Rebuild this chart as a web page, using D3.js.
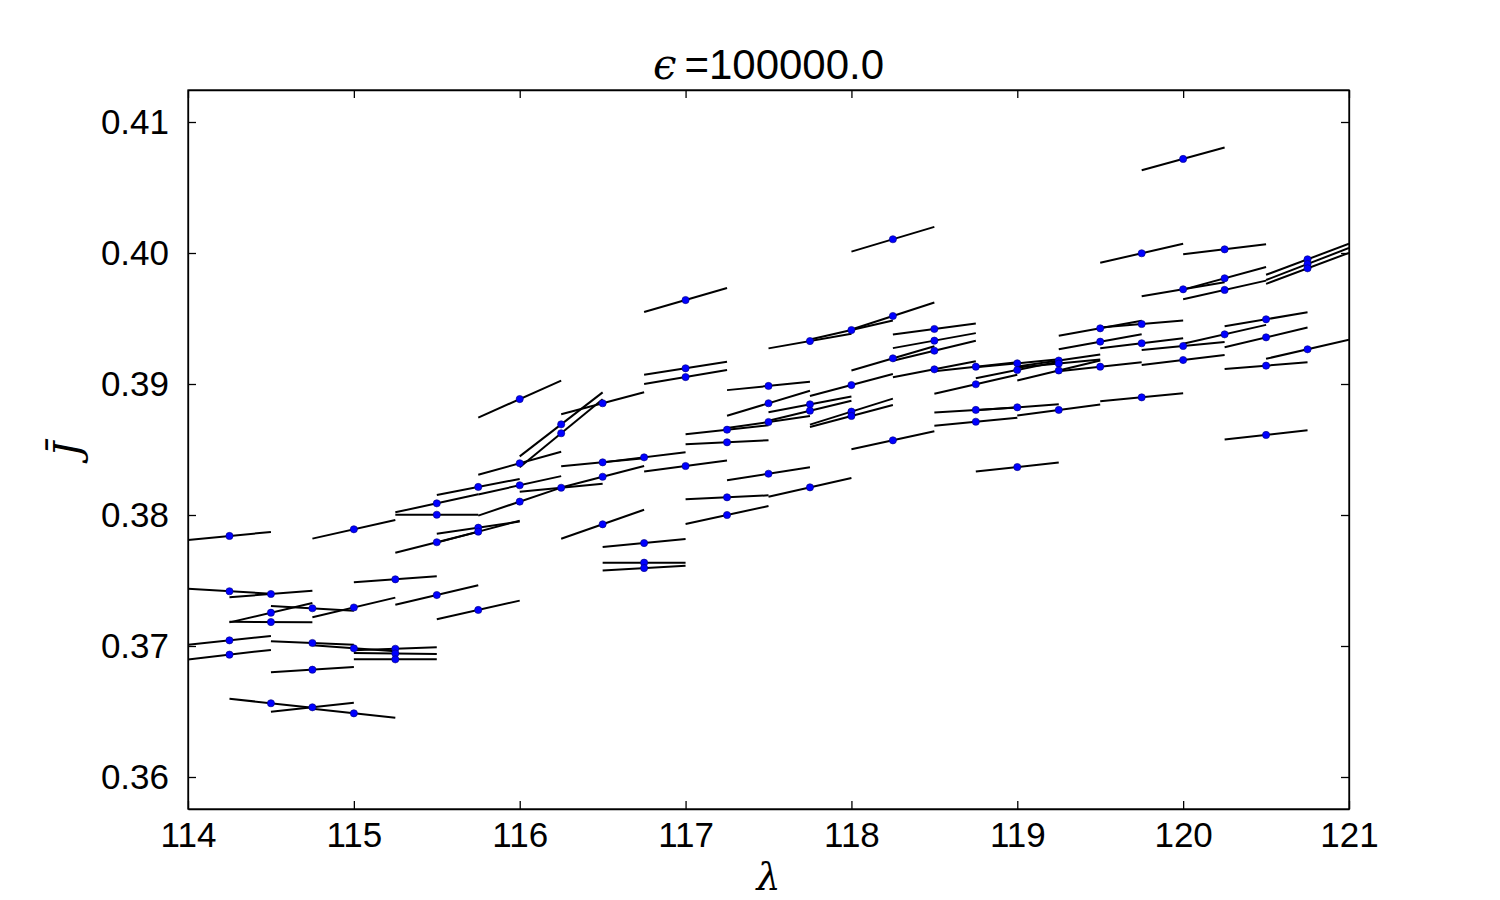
<!DOCTYPE html>
<html>
<head>
    <title>epsilon = 100000.0</title>
    <script src="https://d3js.org/d3.v7.min.js"></script>
</head>
<body style="margin:0; background:#fff;">
    <style>
        text { font-family: 'Liberation Sans', Arial, sans-serif; fill: #000; }
        .axis text { font-size: 35px; font-family: 'Liberation Sans', Arial, sans-serif; }
        .axis path, .axis line { fill: none; stroke: #000; stroke-width: 1.3px; }
        .seg { stroke: #000; stroke-width: 2px; fill: none; }
        .dot { fill: #0000ff; stroke: #00007a; stroke-width: 0.6px; }
    </style>
    <script>
    // lambda columns, one list of J-bar values (and tangent slopes dJ/dlambda) per column
    var lambdas = [114.25, 114.5, 114.75, 115, 115.25, 115.5, 115.75, 116, 116.25, 116.5, 116.75,
                   117, 117.25, 117.5, 117.75, 118, 118.25, 118.5, 118.75, 119, 119.25, 119.5,
                   119.75, 120, 120.25, 120.5, 120.75];

    var jbar = [
        [0.3784, 0.37418, 0.37043, 0.36934],
        [0.37397, 0.37254, 0.37183, 0.36563],
        [0.37288, 0.37023, 0.36819, 0.36532],
        [0.37891, 0.37294, 0.36982, 0.36486],
        [0.37509, 0.36979, 0.36943, 0.36898],
        [0.38089, 0.38002, 0.37792, 0.37389],
        [0.38214, 0.37903, 0.37873, 0.37275],
        [0.38885, 0.38395, 0.38227, 0.38102],
        [0.38692, 0.38624, 0.38208],
        [0.38853, 0.38402, 0.38292, 0.37929],
        [0.3844, 0.37786, 0.37636, 0.37595],
        [0.39641, 0.3912, 0.39053, 0.38374],
        [0.38651, 0.38555, 0.38135, 0.38],
        [0.38985, 0.38853, 0.3871, 0.38315],
        [0.39328, 0.38845, 0.38796, 0.38211],
        [0.39412, 0.38992, 0.38789, 0.38756],
        [0.40105, 0.39519, 0.39196, 0.3857],
        [0.3942, 0.39331, 0.39254, 0.39112],
        [0.39132, 0.38998, 0.38802, 0.38712],
        [0.39158, 0.39107, 0.38822, 0.38366],
        [0.39179, 0.39156, 0.39103, 0.38802],
        [0.39425, 0.39323, 0.39132],
        [0.39998, 0.39458, 0.39311, 0.38898],
        [0.40718, 0.39723, 0.3929, 0.39183],
        [0.40028, 0.39807, 0.39718, 0.39379],
        [0.39494, 0.39356, 0.3914, 0.38611],
        [0.39952, 0.39916, 0.39883, 0.39265]
    ];

    var slopes = [
        [0.00122, -0.00076, 0.00133, 0.00145],
        [0.00102, 0.00295, -0.0001, -0.00137],
        [-0.00072, -0.00053, 0.00081, 0.00137],
        [0.00285, 0.00301, -0.00092, -0.00137],
        [0.00092, 0.00046, -0.00015, 0],
        [0.00275, 0, 0.00321, 0.00298],
        [0.00244, 0.00188, 0.00336, 0.00285],
        [0.00565, 0.00351, 0.00279, 0.00427],
        [0.00977, 0.01038, 0.00122],
        [0.00336, 0.00122, 0.00331, 0.00443],
        [0.00153, 0.00122, 0, 0.00072],
        [0.00366, 0.00198, 0.00214, 0.00168],
        [0.00137, 0.00061, 0.00061, 0.00275],
        [0.00127, 0.00382, 0.00183, 0.00198],
        [0.00224, 0.0024, 0.00305, 0.00285],
        [0.0029, 0.00336, 0.00397, 0.00336],
        [0.00377, 0.00412, 0.00371, 0.00275],
        [0.00168, 0.00229, 0.00305, 0.00244],
        [0.00137, 0.0029, 0.00076, 0.00122],
        [0.00122, 0.00255, 0.00092, 0.00137],
        [0.00183, 0.00122, 0.00305, 0.00168],
        [0.00229, 0.00229, 0.00137],
        [0.0029, 0.00107, 0.00153, 0.00122],
        [0.00347, 0.00214, 0.00122, 0.00153],
        [0.00153, 0.00347, 0.00285, 0.0029],
        [0.00214, 0.00301, 0.00102, 0.00142],
        [0.00473, 0.00489, 0.00473, 0.0029]
    ];

    var xTicks = [114, 115, 116, 117, 118, 119, 120, 121];
    var yTicks = [0.36, 0.37, 0.38, 0.39, 0.40, 0.41];
    var halfWidth = 0.25;   // tangent segment spans lambda +/- 0.25

    var points = [];
    lambdas.forEach(function(l, i) {
        jbar[i].forEach(function(j, k) {
            points.push({lam: l, j: j, s: slopes[i][k]});
        });
    });

    var W = 1500, H = 900;
    var margin = {top: 90, right: 151, bottom: 91, left: 188},
        width = W - margin.left - margin.right,
        height = H - margin.top - margin.bottom;

    var svg = d3.select("body").append("svg")
        .attr("width", W)
        .attr("height", H);

    var g = svg.append("g")
        .attr("transform", "translate(" + margin.left + "," + margin.top + ")");

    var x = d3.scaleLinear().domain([114, 121]).range([0, width]);
    var y = d3.scaleLinear().domain([0.357557, 0.412443]).range([height, 0]);

    g.append("clipPath").attr("id", "plotclip")
      .append("rect").attr("width", width).attr("height", height);

    var plot = g.append("g").attr("clip-path", "url(#plotclip)");

    plot.selectAll(".seg").data(points).enter()
        .append("line")
        .attr("class", "seg")
        .attr("x1", function(d) { return x(d.lam - halfWidth); })
        .attr("x2", function(d) { return x(d.lam + halfWidth); })
        .attr("y1", function(d) { return y(d.j - d.s * halfWidth); })
        .attr("y2", function(d) { return y(d.j + d.s * halfWidth); });

    plot.selectAll(".dot").data(points).enter()
        .append("circle")
        .attr("class", "dot")
        .attr("cx", function(d) { return x(d.lam); })
        .attr("cy", function(d) { return y(d.j); })
        .attr("r", 3.6);

    // axes, ticks pointing inward like matplotlib classic
    var tick = 8;
    g.append("g").attr("class", "axis")
        .attr("transform", "translate(0," + height + ")")
        .call(d3.axisBottom(x).tickValues(xTicks).tickFormat(d3.format("d"))
              .tickSizeInner(-tick).tickSizeOuter(0).tickPadding(13));
    g.append("g").attr("class", "axis")
        .call(d3.axisTop(x).tickValues(xTicks).tickFormat("")
              .tickSizeInner(-tick).tickSizeOuter(0));
    g.append("g").attr("class", "axis")
        .call(d3.axisLeft(y).tickValues(yTicks).tickFormat(d3.format(".2f"))
              .tickSizeInner(-tick).tickSizeOuter(0).tickPadding(19));
    g.append("g").attr("class", "axis")
        .attr("transform", "translate(" + width + ",0)")
        .call(d3.axisRight(y).tickValues(yTicks).tickFormat("")
              .tickSizeInner(-tick).tickSizeOuter(0));

    g.append("rect")
        .attr("width", width).attr("height", height)
        .style("fill", "none").style("stroke", "#000").style("stroke-width", "1.3px");

    // title
    var title = svg.append("text")
        .attr("x", margin.left + width / 2)
        .attr("y", 79)
        .attr("text-anchor", "middle")
        .style("font-size", "42px");
    title.append("tspan").style("font-family", "'DejaVu Serif', serif").style("font-style", "italic").text("\u03f5");
    title.append("tspan").attr("dx", 8).text("=100000.0");

    // axis labels
    svg.append("text")
        .attr("x", margin.left + width / 2)
        .attr("y", 890)
        .attr("text-anchor", "middle")
        .style("font-family", "'DejaVu Serif', serif")
        .style("font-style", "italic")
        .style("font-size", "38px")
        .text("\u03bb");

    svg.append("text")
        .attr("transform", "translate(80," + (margin.top + height / 2) + ")rotate(-90)")
        .attr("text-anchor", "middle")
        .style("font-family", "'DejaVu Serif', serif")
        .style("font-style", "italic")
        .style("font-size", "38px")
        .text("J\u0304");
    </script>
</body>
</html>
